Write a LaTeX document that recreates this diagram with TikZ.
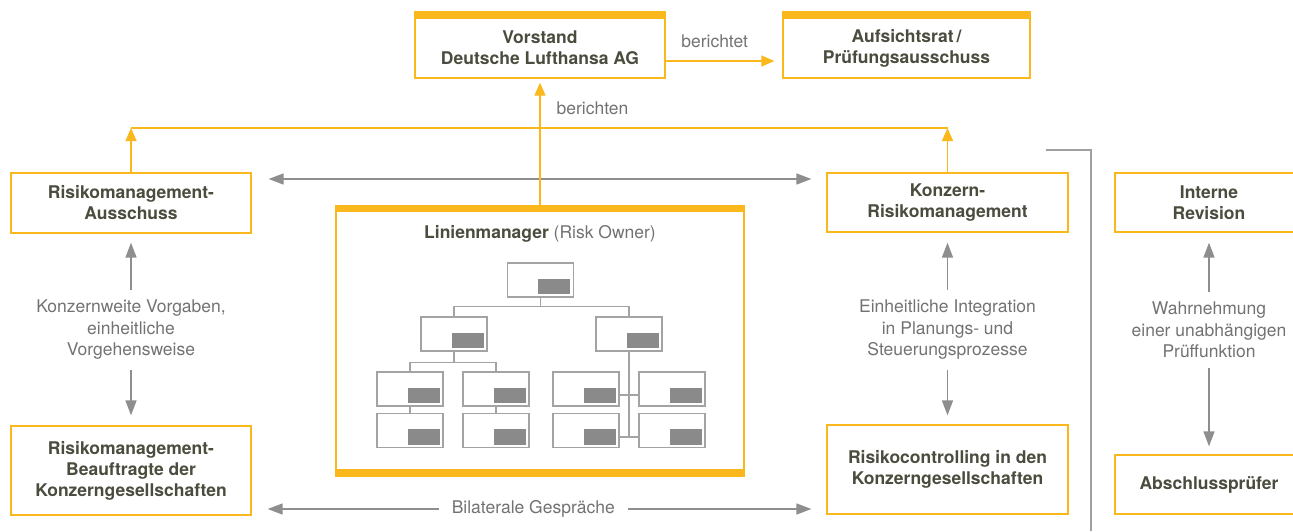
\documentclass[tikz,border=0pt]{standalone}
\usepackage{fontspec}
\setmainfont{TeX Gyre Heros}
\usetikzlibrary{arrows.meta,calc,positioning}
\definecolor{lhYellow}{HTML}{FAB81C}
\definecolor{lhInk}{HTML}{4B4C3E}
\definecolor{lhNote}{HTML}{727272}
\definecolor{lhArrow}{HTML}{8E8E8E}
\definecolor{lhRule}{HTML}{A0A0A0}
\definecolor{orgLine}{HTML}{A3A3A3}
\definecolor{orgFill}{HTML}{8A8A8A}
\newcommand{\BoxFont}{\fontsize{17.5}{21}\selectfont\bfseries}
\newcommand{\NoteFont}{\fontsize{17.5}{21.5}\selectfont}
\tikzset{
  unitbox/.style={draw=lhYellow, line width=1.3pt, fill=white, align=center,
    font=\BoxFont, text=lhInk, inner sep=0pt},
  note/.style={align=center, font=\NoteFont, text=lhNote, inner xsep=0pt, inner ysep=10pt},
  yLine/.style={draw=lhYellow, line width=1.3pt},
  yArrow/.style={yLine, -{Triangle[length=13pt,width=11pt]}},
  gArrow/.style={draw=lhArrow, line width=1.5pt, -{Triangle[length=15pt,width=11pt]}},
  gBoth/.style={gArrow, {Triangle[length=15pt,width=11pt]}-{Triangle[length=15pt,width=11pt]}},
  orgbox/.style={draw=orgLine, line width=1.2pt, minimum width=66pt, minimum height=34pt, inner sep=0pt},
  orglink/.style={draw=orgLine, line width=1.2pt},
}
\begin{document}
\begin{tikzpicture}[x=1pt,y=-1pt]
  \useasboundingbox (0,0) rectangle (1293,531);
  \clip (0,0) rectangle (1293,531);

  % Vorstand / Aufsichtsrat
  \node[unitbox, minimum width=250pt, minimum height=60pt] (vorstand) at (540,48) {Vorstand\\Deutsche Lufthansa AG};
  \node[unitbox, minimum width=247pt, minimum height=60pt] (aufsicht) at (906.5,48) {Aufsichtsrat\,/\\Prüfungsausschuss};
  \foreach \n in {vorstand,aufsicht}
    \fill[lhYellow] (\n.north west) rectangle ([yshift=6pt]\n.north east);
  \draw[yArrow, shorten >=8pt] ([yshift=-13pt]vorstand.east) -- ([yshift=-13pt]vorstand.east -| aufsicht.west)
    node[pos=0.42, above=13pt, note, inner ysep=0pt] {berichtet};

  % linke Spalte
  \node[unitbox, minimum width=240pt, minimum height=60pt] (rmaus) at (131,203) {Risikomanagement-\\Ausschuss};
  \node[note] (vorgaben) at (131,330) {Konzernweite Vorgaben,\\einheitliche\\Vorgehensweise};
  \node[unitbox, minimum width=240pt, minimum height=89pt] (rmb) at (131,470.5) {Risikomanagement-\\Beauftragte der\\Konzerngesellschaften};
  \draw[gArrow, shorten >=9pt] (vorgaben.north) -- (rmaus.south);
  \draw[gArrow, shorten >=10pt] (vorgaben.south) -- (rmb.north);

  % rechte Spalte
  \node[unitbox, minimum width=241pt, minimum height=59pt] (krm) at (947.5,202.5) {Konzern-\\Risikomanagement};
  \node[note] (integration) at (947.5,330) {Einheitliche Integration\\in Planungs- und\\Steuerungsprozesse};
  \node[unitbox, minimum width=241pt, minimum height=89pt] (rc) at (947.5,469.5) {Risikocontrolling in den\\Konzerngesellschaften};
  \draw[gArrow, shorten >=10pt] (integration.north) -- (krm.south);
  \draw[gArrow, shorten >=9pt] (integration.south) -- (rc.north);

  % Revision
  \node[unitbox, minimum width=188pt, minimum height=59pt] (revision) at (1209,202.5) {Interne\\Revision};
  \node[note] (pruefung) at (1209,330) {Wahrnehmung\\einer unabhängigen\\Prüffunktion};
  \node[unitbox, minimum width=188pt, minimum height=59pt] (pruefer) at (1209,484.5) {Abschlussprüfer};
  \draw[gArrow, shorten >=10pt] (pruefung.north) -- (revision.south);
  \draw[gArrow, shorten >=8pt] (pruefung.south) -- (pruefer.north);
  \draw[draw=lhRule, line width=1.4pt] (1046,150) -- (1091,150) -- (1091,531);

  % Linienmanager
  \node[draw=lhYellow, line width=1.3pt, minimum width=408pt, minimum height=270pt, inner sep=0pt] (linien) at (540,341) {};
  \fill[lhYellow] (linien.north west) rectangle ([yshift=-7pt]linien.north east);
  \fill[lhYellow] (linien.south west) rectangle ([yshift=8pt]linien.south east);
  \node[font=\NoteFont, text=lhNote, inner sep=0pt] (lmTitle) at (540,234) {{\bfseries\color{lhInk}Linienmanager} (Risk Owner)};

  % Organigramm
  \foreach \n/\x/\y in {org/540.5/280, orgL/454/334, orgR/629/334,
      orgA1/410/389, orgA2/410/430.5, orgB1/496/389, orgB2/496/430.5,
      orgC1/586/389, orgC2/586/430.5, orgD1/672/389, orgD2/672/430.5} {
    \node[orgbox] (\n) at (\x,\y) {};
    \fill[orgFill] ([xshift=-4pt,yshift=3.5pt]\n.south east) rectangle ++(-32,-15.5);
  }
  \draw[orglink] (org.south) -- ++(0,9) -| (orgL.north);
  \draw[orglink] (org.south) -- ++(0,9) -| (orgR.north);
  \draw[orglink] (orgL.south) -- ++(0,11) -| (orgA1.north);
  \draw[orglink] (orgL.south) -- ++(0,11) -| (orgB1.north);
  \draw[orglink] (orgA1.south) -- (orgA2.north);
  \draw[orglink] (orgB1.south) -- (orgB2.north);
  \draw[orglink] (orgR.south) -- ([yshift=-6.5pt]orgR.south |- orgC2.east);
  \draw[orglink] ([yshift=-6pt]orgC1.east) -- ([yshift=-6pt]orgD1.west);
  \draw[orglink] ([yshift=-6.5pt]orgC2.east) -- ([yshift=-6.5pt]orgD2.west);

  % Berichtswege
  \draw[gBoth, shorten <=17pt, shorten >=15pt] ([yshift=24pt]rmaus.east) -- ([yshift=24pt]rmaus.east -| krm.west);
  \draw[gBoth, shorten <=16pt, shorten >=15pt] ([yshift=-38.5pt]rmb.east) -- ([yshift=-38.5pt]rmb.east -| rc.west)
    node[pos=0.49, note, fill=white, inner xsep=13pt, inner ysep=2pt] {Bilaterale Gespräche};
  \coordinate (rail) at (540,128);
  \draw[yLine] (rmaus.north |- rail) -- (krm.north |- rail);
  \draw[yArrow] (rmaus.north) -- (rmaus.north |- rail);
  \draw[yArrow] (krm.north) -- (krm.north |- rail);
  \draw[yArrow, shorten >=4pt] (linien.north) -- (vorstand.south)
    node[pos=0.766, right=16pt, note, inner ysep=0pt] {berichten};
\end{tikzpicture}
\end{document}
